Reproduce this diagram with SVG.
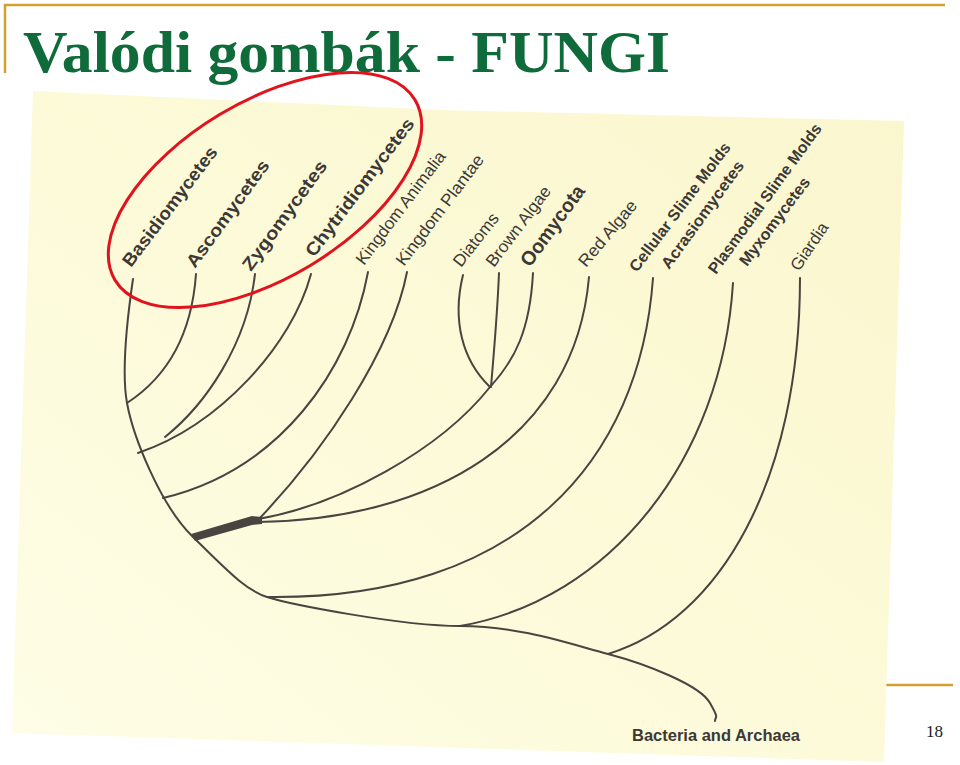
<svg xmlns="http://www.w3.org/2000/svg" width="960" height="765" viewBox="0 0 960 765">
<defs>
<linearGradient id="paper" x1="0" y1="1" x2="1" y2="0">
<stop offset="0" stop-color="#FEFDE6"/>
<stop offset="0.5" stop-color="#FCFAD8"/>
<stop offset="1" stop-color="#FAF6CE"/>
</linearGradient>
</defs>
<style>
.gold{stroke:#D3A030;stroke-width:2.5;fill:none}
.title{font-family:"Liberation Serif",serif;font-weight:bold;font-size:60px;fill:#106B3B}
.br{fill:none;stroke:#4A4440;stroke-width:2;stroke-linecap:round}
.lb{font-family:"Liberation Sans",Arial,sans-serif;fill:#3C3836}
.b{font-weight:bold;font-size:18px}
.n{font-weight:normal;font-size:17px}
.s{font-weight:bold;font-size:16px}
.pg{font-family:"Liberation Serif",serif;font-size:17px;fill:#222}
</style>
<rect width="960" height="765" fill="#FFFFFF"/>
<polyline class="gold" points="5,73 5,5 945,5"/>
<line class="gold" x1="883" y1="685" x2="953" y2="685"/>
<polygon id="photo" points="33,91 440,110 904,121 884,762 12,733" fill="url(#paper)"/>
<text class="title" x="23" y="72" textLength="647" lengthAdjust="spacingAndGlyphs">Valódi gombák - FUNGI</text>
<g id="connectors">
<path class="br" d="M133,279 C127,320 121,370 127,403 S160,505 193,537 S245,590 267,597 S400,626 460,626 S570,644 608,654 S700,685 710,703 S715,715 715,721"/>
<path class="br" d="M196,274 C192,330 170,375 127,403"/>
<path class="br" d="M255,274 C247,345 205,405 165,437"/>
<path class="br" d="M311,274 C292,345 220,425 138,453"/>
<path class="br" d="M368,272 C350,370 280,470 163,498"/>
<path class="br" d="M407,272 C392,350 325,450 258,520"/>
<polygon points="191,534 252,516 262,517 262,524 252,525 195,541" fill="#4A4440"/>
<path class="br" d="M258,519 C340,505 440,450 490,387"/>
<path class="br" d="M258,522 C430,520 575,440 589,277"/>
<path class="br" d="M463,275 C452,320 462,360 490,387"/>
<path class="br" d="M499,273 C497,320 494,350 491,387"/>
<path class="br" d="M533,273 C530,330 515,360 490,387"/>
<path class="br" d="M653,278 C640,460 520,600 268,597"/>
<path class="br" d="M733,283 C722,460 610,600 460,626"/>
<path class="br" d="M800,278 C800,480 720,620 608,654"/>
</g>
<g id="n-basidio"><text class="lb b" transform="translate(131,268) rotate(-53)" textLength="145" lengthAdjust="spacingAndGlyphs">Basidiomycetes</text></g>
<g id="n-asco"><text class="lb b" transform="translate(195,269) rotate(-54)" textLength="128" lengthAdjust="spacingAndGlyphs">Ascomycetes</text></g>
<g id="n-zygo"><text class="lb b" transform="translate(251,272) rotate(-54)" textLength="131" lengthAdjust="spacingAndGlyphs">Zygomycetes</text></g>
<g id="n-chytrid"><text class="lb b" transform="translate(314,258) rotate(-53)" textLength="168" lengthAdjust="spacingAndGlyphs">Chytridiomycetes</text></g>
<g id="n-animalia"><text class="lb n" transform="translate(364,266) rotate(-53)" textLength="137" lengthAdjust="spacingAndGlyphs">Kingdom Animalia</text></g>
<g id="n-plantae"><text class="lb n" transform="translate(404,267) rotate(-53)" textLength="134" lengthAdjust="spacingAndGlyphs">Kingdom Plantae</text></g>
<g id="n-diatoms"><text class="lb n" transform="translate(461,268) rotate(-52)" textLength="63" lengthAdjust="spacingAndGlyphs">Diatoms</text></g>
<g id="n-brown"><text class="lb n" transform="translate(494,268) rotate(-53)" textLength="96" lengthAdjust="spacingAndGlyphs">Brown Algae</text></g>
<g id="n-oomycota"><text class="lb" font-weight="bold" font-size="20" transform="translate(530,268) rotate(-54)" textLength="95" lengthAdjust="spacingAndGlyphs">Oomycota</text></g>
<g id="n-red"><text class="lb n" transform="translate(586,268) rotate(-50)" textLength="81" lengthAdjust="spacingAndGlyphs">Red Algae</text></g>
<g id="n-cellular"><text class="lb s" transform="translate(637,273) rotate(-53)" textLength="157" lengthAdjust="spacingAndGlyphs">Cellular Slime Molds</text>
<text class="lb s" transform="translate(669,270) rotate(-54)" textLength="129" lengthAdjust="spacingAndGlyphs">Acrasiomycetes</text></g>
<g id="n-plasmodial"><text class="lb s" transform="translate(716,275) rotate(-54)" textLength="181" lengthAdjust="spacingAndGlyphs">Plasmodial Slime Molds</text>
<text class="lb s" transform="translate(747,267) rotate(-53)" textLength="106" lengthAdjust="spacingAndGlyphs">Myxomycetes</text></g>
<g id="n-giardia"><text class="lb n" transform="translate(799,272) rotate(-56)" textLength="54" lengthAdjust="spacingAndGlyphs">Giardia</text></g>
<g id="n-bacteria"><text class="lb" font-weight="bold" font-size="16.5" x="632" y="741" textLength="168" lengthAdjust="spacingAndGlyphs">Bacteria and Archaea</text></g>
<text class="pg" x="926" y="737">18</text>
<ellipse id="highlight" cx="265" cy="190" rx="175" ry="88" transform="rotate(-31 265 190)" fill="none" stroke="#E0141E" stroke-width="3"/>
</svg>
